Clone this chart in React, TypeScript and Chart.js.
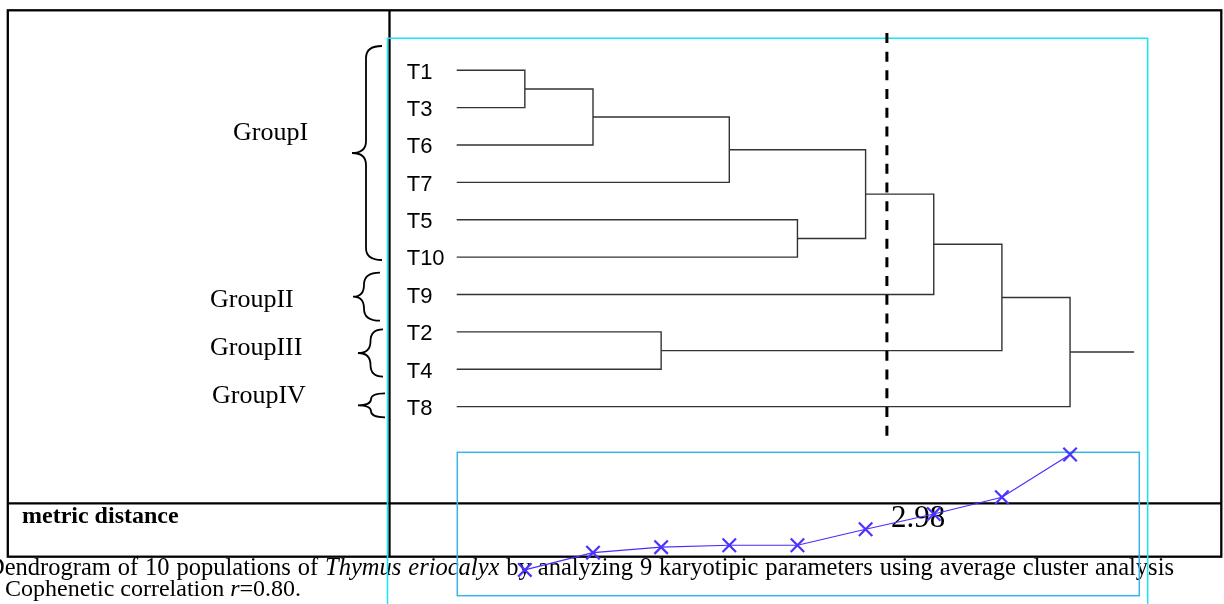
import React, { useEffect, useRef } from "react";
import { Chart, registerables } from "chart.js";

Chart.register(...registerables);

// ---------------- data ----------------
const leafLabels = ["T1", "T3", "T6", "T7", "T5", "T10", "T9", "T2", "T4", "T8"];
// merge k (1-based) creates cluster "Ck" at fusion step k
const mergeLeft = ["T1", "C1", "T2", "C2", "T5", "C4", "C6", "C7", "C8"];
const mergeRight = ["T3", "T6", "T4", "T7", "T10", "C5", "T9", "C3", "T8"];
const fusionDistance = [1.08, 1.8, 2.03, 2.11, 2.11, 2.78, 3.42, 4.12, 5.91];
const cutDistance = 2.98;
const cutLabel = "2.98";
const groupNames = ["GroupI", "GroupII", "GroupIII", "GroupIV"];
const axisTitle = "metric distance";
const captionLine1 = [
  "Dendrogram of 10 populations of",
  "Thymus eriocalyx",
  "by analyzing 9 karyotipic parameters using average cluster analysis",
];
const captionLine1Italic = [false, true, false];
const captionLine2 = ["Cophenetic correlation ", "r", "=0.80."];
const captionLine2Italic = [false, true, false];

// ---------------- layout (pixels / styles) ----------------
const W = 1224;
const H = 604;
const X0 = 456.7; // pixel of step 0
const XSTEP = 68.15; // pixels per fusion step
const Y0 = 70.3; // pixel of first leaf
const YSTEP = 37.37; // pixels per leaf
const DIST_BOTTOM_PX = 595.7;
const DIST_TOP_PX = 452.3;
const DIST_RANGE = 6;
const ROOT_STUB = 0.94;
const CUT_TOP = -1.0;
const CUT_BOTTOM = 9.8;
const SERIF = "'Liberation Serif', 'Times New Roman', serif";
const SANS = "'Liberation Sans', Arial, sans-serif";

const groupLabelPos = [
  { x: 233, y: 140 },
  { x: 210, y: 307 },
  { x: 210, y: 355 },
  { x: 212, y: 403 },
];
const braceLayout = [
  { top: 46, bot: 260, vx: 366, tipX: 382, midX: 352 },
  { top: 272.7, bot: 320.7, vx: 364, tipX: 380, midX: 353 },
  { top: 329.3, bot: 376.7, vx: 370.5, tipX: 383, midX: 358 },
  { top: 393.3, bot: 417.3, vx: 371, tipX: 385, midX: 358 },
];

function buildDendrogram() {
  const pos: Record<string, { x: number; y: number }> = {};
  leafLabels.forEach((l, i) => (pos[l] = { x: 0, y: i }));
  const segs: { x: number; y: number }[][] = [];
  mergeLeft.forEach((a, k) => {
    const b = mergeRight[k];
    const step = k + 1;
    const pa = pos[a];
    const pb = pos[b];
    segs.push([
      { x: pa.x, y: pa.y },
      { x: step, y: pa.y },
      { x: step, y: pb.y },
      { x: pb.x, y: pb.y },
    ]);
    pos["C" + step] = { x: step, y: (pa.y + pb.y) / 2 };
  });
  const root = pos["C" + mergeLeft.length];
  segs.push([
    { x: root.x, y: root.y },
    { x: root.x + ROOT_STUB, y: root.y },
  ]);
  return segs;
}

function cutStepFromDistance(d: number) {
  for (let i = 0; i < fusionDistance.length - 1; i++) {
    const a = fusionDistance[i];
    const b = fusionDistance[i + 1];
    if (d >= a && d <= b && b > a) return i + 1 + (d - a) / (b - a);
  }
  return fusionDistance.length;
}

function drawBrace(
  ctx: CanvasRenderingContext2D,
  b: { top: number; bot: number; vx: number; tipX: number; midX: number }
) {
  const mid = (b.top + b.bot) / 2;
  const r = Math.min(12, (mid - b.top) / 2);
  ctx.beginPath();
  ctx.moveTo(b.tipX, b.top);
  ctx.quadraticCurveTo(b.vx, b.top, b.vx, b.top + r);
  ctx.lineTo(b.vx, mid - r);
  ctx.quadraticCurveTo(b.vx, mid, b.midX, mid);
  ctx.quadraticCurveTo(b.vx, mid, b.vx, mid + r);
  ctx.lineTo(b.vx, b.bot - r);
  ctx.quadraticCurveTo(b.vx, b.bot, b.tipX, b.bot);
  ctx.stroke();
}

function drawRuns(
  ctx: CanvasRenderingContext2D,
  parts: string[],
  italic: boolean[],
  x: number,
  y: number,
  size: number
) {
  let cx = x;
  parts.forEach((p, i) => {
    ctx.font = `${italic[i] ? "italic " : ""}${size}px ${SERIF}`;
    ctx.fillText(p, cx, y);
    cx += ctx.measureText(p).width;
  });
}

function drawJustified(
  ctx: CanvasRenderingContext2D,
  parts: string[],
  italic: boolean[],
  x0: number,
  x1: number,
  y: number,
  size: number
) {
  const words: { t: string; it: boolean; w: number }[] = [];
  parts.forEach((p, i) => {
    ctx.font = `${italic[i] ? "italic " : ""}${size}px ${SERIF}`;
    p.split(" ")
      .filter((s) => s.length)
      .forEach((t) => words.push({ t, it: italic[i], w: ctx.measureText(t).width }));
  });
  const total = words.reduce((s, w) => s + w.w, 0);
  const gap = (x1 - x0 - total) / (words.length - 1);
  let cx = x0;
  words.forEach((w) => {
    ctx.font = `${w.it ? "italic " : ""}${size}px ${SERIF}`;
    ctx.fillText(w.t, cx, y);
    cx += w.w + gap;
  });
}

const decorPlugin = {
  id: "figureDecor",
  beforeDraw(chart: any) {
    const ctx = chart.ctx as CanvasRenderingContext2D;
    ctx.save();
    ctx.fillStyle = "#ffffff";
    ctx.fillRect(0, 0, W, H);
    ctx.restore();
  },
  beforeDatasetsDraw(chart: any) {
    const ctx = chart.ctx as CanvasRenderingContext2D;
    const xs = chart.scales.x;
    const yl = chart.scales.yLeaf;
    const yd = chart.scales.yDist;
    ctx.save();
    ctx.fillStyle = "#000";
    ctx.textBaseline = "alphabetic";
    ctx.textAlign = "left";

    // caption
    drawJustified(ctx, captionLine1, captionLine1Italic, -13, 1174, 575, 24.5);
    drawRuns(ctx, captionLine2, captionLine2Italic, 5, 596, 24);

    // table frame
    ctx.strokeStyle = "#000";
    ctx.lineWidth = 2.3;
    ctx.strokeRect(7.8, 10.3, 1221.3 - 7.8, 556.7 - 10.3);
    ctx.beginPath();
    ctx.moveTo(389.5, 10.3);
    ctx.lineTo(389.5, 556.7);
    ctx.moveTo(7.8, 503.3);
    ctx.lineTo(1221.3, 503.3);
    ctx.stroke();

    // embedded picture frames
    ctx.lineWidth = 1.5;
    ctx.strokeStyle = "rgb(20,232,245)";
    ctx.beginPath();
    ctx.moveTo(387.5, H + 2);
    ctx.lineTo(387.5, 38.3);
    ctx.lineTo(1147.7, 38.3);
    ctx.lineTo(1147.7, H + 2);
    ctx.stroke();
    ctx.strokeStyle = "rgb(55,180,232)";
    ctx.strokeRect(457.3, DIST_TOP_PX, 1139.3 - 457.3, DIST_BOTTOM_PX - DIST_TOP_PX);

    // axis title
    ctx.fillStyle = "#000";
    ctx.font = `bold 24px ${SERIF}`;
    ctx.fillText(axisTitle, 22, 522.7);

    // group labels and braces
    ctx.font = `26px ${SERIF}`;
    groupNames.forEach((g, i) => ctx.fillText(g, groupLabelPos[i].x, groupLabelPos[i].y));
    ctx.lineWidth = 1.8;
    ctx.strokeStyle = "#000";
    braceLayout.forEach((b) => drawBrace(ctx, b));

    // leaf labels
    ctx.font = `22px ${SANS}`;
    leafLabels.forEach((l, i) => ctx.fillText(l, 406.7, yl.getPixelForValue(i) + 8.3));

    // cut value label
    const cs = cutStepFromDistance(cutDistance);
    ctx.font = `31px ${SERIF}`;
    ctx.fillText(cutLabel, xs.getPixelForValue(cs) + 4, yd.getPixelForValue(cutDistance) + 3);
    ctx.restore();
  },
};

export default function App() {
  const ref = useRef<HTMLCanvasElement | null>(null);
  useEffect(() => {
    if (!ref.current) return;
    const segs = buildDendrogram();
    const cs = cutStepFromDistance(cutDistance);
    const datasets: any[] = segs.map((s) => ({
      type: "scatter",
      data: s,
      showLine: true,
      xAxisID: "x",
      yAxisID: "yLeaf",
      borderColor: "#333333",
      borderWidth: 1.4,
      pointRadius: 0,
      fill: false,
      order: 3,
      clip: false,
    }));
    datasets.push({
      type: "scatter",
      data: [
        { x: cs, y: CUT_TOP },
        { x: cs, y: CUT_BOTTOM },
      ],
      showLine: true,
      xAxisID: "x",
      yAxisID: "yLeaf",
      borderColor: "#000",
      borderWidth: 3,
      borderDash: [10, 8.7],
      pointRadius: 0,
      order: 0,
      clip: false,
    });
    datasets.push({
      type: "scatter",
      data: fusionDistance.map((d, i) => ({ x: i + 1, y: d })),
      showLine: true,
      xAxisID: "x",
      yAxisID: "yDist",
      borderColor: "rgb(70,45,255)",
      borderWidth: 1.2,
      pointStyle: "crossRot",
      pointRadius: 9.5,
      pointBorderWidth: 2.2,
      pointBorderColor: "rgb(75,50,255)",
      pointBackgroundColor: "rgb(75,50,255)",
      order: 1,
      clip: false,
    });

    const kd = (DIST_BOTTOM_PX - DIST_TOP_PX) / DIST_RANGE;
    const chart = new Chart(ref.current, {
      type: "scatter",
      data: { datasets },
      options: {
        responsive: false,
        animation: false,
        devicePixelRatio: 1,
        events: [],
        layout: { padding: 0, autoPadding: false },
        plugins: { legend: { display: false }, tooltip: { enabled: false } },
        scales: {
          x: {
            type: "linear",
            display: false,
            bounds: "data",
            min: -X0 / XSTEP,
            max: (W - X0) / XSTEP,
          },
          yLeaf: {
            type: "linear",
            display: false,
            reverse: true,
            bounds: "data",
            min: -Y0 / YSTEP,
            max: (H - Y0) / YSTEP,
          },
          yDist: {
            type: "linear",
            display: false,
            bounds: "data",
            min: -(H - DIST_BOTTOM_PX) / kd,
            max: DIST_BOTTOM_PX / kd,
          },
        },
      } as any,
      plugins: [decorPlugin],
    });
    return () => chart.destroy();
  }, []);

  return (
    <div style={{ position: "absolute", left: 0, top: 0, width: W, height: H }}>
      <canvas ref={ref} width={W} height={H} style={{ display: "block" }} />
    </div>
  );
}
